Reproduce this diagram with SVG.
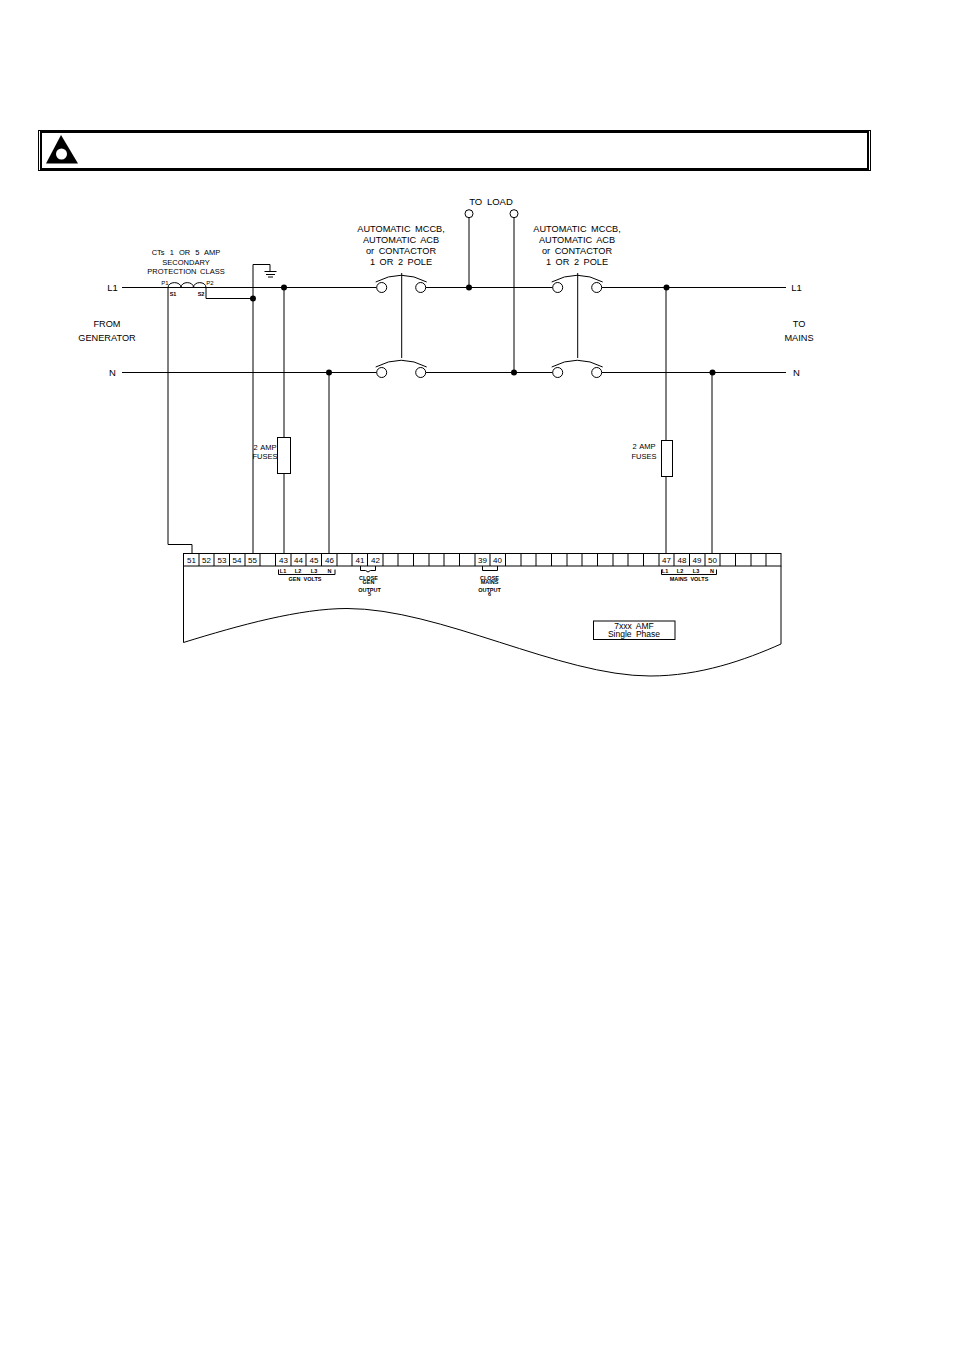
<svg xmlns="http://www.w3.org/2000/svg" width="954" height="1351" viewBox="0 0 954 1351">
<style>
text{font-family:"Liberation Sans",Arial,sans-serif;fill:#000;text-anchor:middle;word-spacing:2px}
.l{font-size:9.500px}.m{font-size:9.200px}.s{font-size:7.500px;word-spacing:1.500px}.t{font-size:8px;word-spacing:0}.x{font-size:5.500px;font-weight:bold;word-spacing:1.500px}.p{font-size:6px;word-spacing:0}.b{font-size:8.500px}
.w{fill:none;stroke:#000;stroke-width:1}
.h{fill:none;stroke:#000;stroke-width:2}
.c{fill:#fff;stroke:#000;stroke-width:1}
.d{fill:#000}
</style>
<defs>
<g id="br"><circle class="c" cx="0" cy="0" r="5"/><circle class="c" cx="39" cy="0" r="5"/><path class="w" d="M-6 -5.500Q19.500 -19 45 -5.500"/></g>
</defs>
<rect width="954" height="1351" fill="#fff"/>
<g id="header">
<rect class="w" x="38.500" y="130.500" width="832" height="40"/>
<rect class="h" x="41" y="132" width="827" height="37"/>
<path class="d" d="M61 135L78 163.500H46Z"/>
<circle cx="61.500" cy="154" r="5.500" fill="#fff"/>
</g>
<g id="connectors">
<path class="w" d="M122 287.500H376.700M425.700 287.500H552.700M601.700 287.500H786M122 372.500H376.700M425.700 372.500H552.700M601.700 372.500H786"/>
<path class="w" d="M168 287.500V544.500H192V553.500M206 287.500V298.500H253M253 553.500V264.500H270V271M284 287.500V553.500M329 372.500V553.500M666 287.500V553.500M712 372.500V553.500M469 218V287.500M514 218V372.500M401.700 273V358M577.700 273V358"/>
<path class="w" d="M168 287.500C168 281 181 281 181 287.500C181 281 193.500 281 193.500 287.500C193.500 281 206 281 206 287.500"/>
<circle class="d" cx="253" cy="298.500" r="3"/><circle class="d" cx="284" cy="287.500" r="3"/><circle class="d" cx="329" cy="372.500" r="3"/><circle class="d" cx="469" cy="287.500" r="3"/><circle class="d" cx="514" cy="372.500" r="3"/><circle class="d" cx="666.500" cy="287.500" r="3"/><circle class="d" cx="712.500" cy="372.500" r="3"/>
</g>
<g id="earth"><path class="w" d="M264.500 271.500H276.500M266 274.500H275M268 277H273"/></g>
<g id="breaker-1"><use href="#br" x="381.700" y="287.500"/><use href="#br" x="381.700" y="372.500"/></g>
<g id="breaker-2"><use href="#br" x="557.700" y="287.500"/><use href="#br" x="557.700" y="372.500"/></g>
<g id="load-terminals"><circle class="c" cx="469" cy="213.700" r="4"/><circle class="c" cx="514" cy="213.700" r="4"/></g>
<g id="fuse-1"><rect class="c" x="277.500" y="437.500" width="13" height="36"/></g>
<g id="fuse-2"><rect class="c" x="661.500" y="440.500" width="11" height="36"/></g>
<g id="labels">
<text class="l" x="112.500" y="290.500">L1</text><text class="l" x="112.500" y="376">N</text>
<text class="l" x="796.500" y="290.500">L1</text><text class="l" x="796.500" y="376">N</text>
<text class="m" x="107" y="326.500">FROM</text><text class="m" x="107" y="340.500">GENERATOR</text>
<text class="m" x="799" y="326.500">TO</text><text class="m" x="799" y="340.500">MAINS</text>
<text class="l" x="491" y="204.500">TO LOAD</text>
<text class="s" x="186" y="254.500" style="word-spacing:3px">CTs 1 OR 5 AMP</text><text class="s" x="186" y="264.500">SECONDARY</text><text class="s" x="186" y="274">PROTECTION CLASS</text>
<text class="p" x="165" y="284.500">P1</text><text class="p" x="210" y="284.500">P2</text><text class="x" x="173" y="296">S1</text><text class="x" x="201" y="296">S2</text>
<text class="m" x="401" y="232">AUTOMATIC MCCB,</text><text class="m" x="401" y="243">AUTOMATIC ACB</text><text class="m" x="401" y="254">or CONTACTOR</text><text class="m" x="401" y="265">1 OR 2 POLE</text>
<text class="m" x="577" y="232">AUTOMATIC MCCB,</text><text class="m" x="577" y="243">AUTOMATIC ACB</text><text class="m" x="577" y="254">or CONTACTOR</text><text class="m" x="577" y="265">1 OR 2 POLE</text>
<text class="s" x="265" y="450" style="word-spacing:1px">2 AMP</text><text class="s" x="265" y="459">FUSES</text>
<text class="s" x="644" y="449" style="word-spacing:1px">2 AMP</text><text class="s" x="644" y="458.500">FUSES</text>
</g>
<g id="controller">
<path class="w" d="M183.500 566V642.500C240 625 300 608.500 347 608.500C440 608.500 560 676 650 676C700 676 745 660 781 644V566"/>
<rect class="c" x="183.500" y="553.500" width="597.500" height="12.500"/>
<path class="w" d="M199 553.500v12.500M214 553.500v12.500M229.500 553.500v12.500M245 553.500v12.500M260 553.500v12.500M275.500 553.500v12.500M291 553.500v12.500M306 553.500v12.500M321.500 553.500v12.500M337 553.500v12.500M352 553.500v12.500M367.500 553.500v12.500M383 553.500v12.500M398 553.500v12.500M413.500 553.500v12.500M429 553.500v12.500M444 553.500v12.500M459.500 553.500v12.500M475 553.500v12.500M490 553.500v12.500M505.500 553.500v12.500M521 553.500v12.500M536 553.500v12.500M551.500 553.500v12.500M567 553.500v12.500M582 553.500v12.500M597.500 553.500v12.500M613 553.500v12.500M628 553.500v12.500M643.500 553.500v12.500M659 553.500v12.500M674 553.500v12.500M689.500 553.500v12.500M705 553.500v12.500M720 553.500v12.500M735.500 553.500v12.500M751 553.500v12.500M766 553.500v12.500"/>
<text class="t" x="191.500" y="563">51</text><text class="t" x="206.500" y="563">52</text><text class="t" x="222" y="563">53</text><text class="t" x="237" y="563">54</text><text class="t" x="252.500" y="563">55</text>
<text class="t" x="283.500" y="563">43</text><text class="t" x="298.500" y="563">44</text><text class="t" x="314" y="563">45</text><text class="t" x="329.500" y="563">46</text>
<text class="t" x="360" y="563">41</text><text class="t" x="375.500" y="563">42</text><text class="t" x="482.500" y="563">39</text><text class="t" x="497.500" y="563">40</text>
<text class="t" x="666.500" y="563">47</text><text class="t" x="682" y="563">48</text><text class="t" x="697" y="563">49</text><text class="t" x="712.500" y="563">50</text>
<path class="w" d="M278.500 569.500V574.500H335V569.500M661.500 569.500V574.500H716.500V569.500M360.500 566V570.500H365.500L368 572L370.500 570.500H375.500V566M482.500 566V570.500H497.500V566"/>
<text class="x" x="283" y="573">L1</text><text class="x" x="298" y="573">L2</text><text class="x" x="314" y="573">L3</text><text class="x" x="329.500" y="573">N</text>
<text class="x" x="305" y="581">GEN VOLTS</text>
<text class="x" x="665" y="573">L1</text><text class="x" x="680" y="573">L2</text><text class="x" x="696" y="573">L3</text><text class="x" x="712" y="573">N</text>
<text class="x" x="689" y="581">MAINS VOLTS</text>
<text class="x" x="368.500" y="580">CLOSE</text><text class="x" x="368.500" y="584">GEN</text><text class="x" x="369.500" y="591.500">OUTPUT</text><text class="x" x="369.500" y="596">5</text>
<text class="x" x="489.500" y="580">CLOSE</text><text class="x" x="489.500" y="584">MAINS</text><text class="x" x="489.500" y="591.500">OUTPUT</text><text class="x" x="489.500" y="596">6</text>
<rect class="w" x="593.500" y="621" width="81.500" height="18.500"/>
<text class="b" x="634" y="628.500">7xxx AMF</text><text class="b" x="634" y="637">Single Phase</text>
</g>
</svg>
